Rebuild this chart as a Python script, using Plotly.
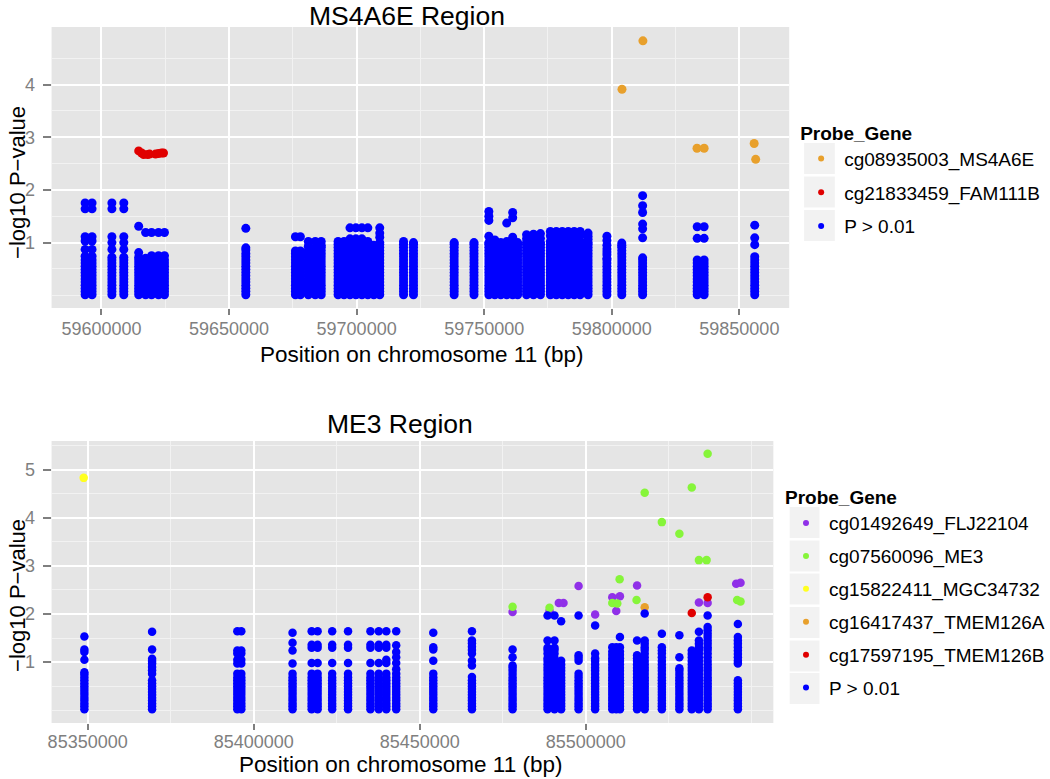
import plotly.graph_objects as go

# ---------------- MS4A6E region (top) ----------------
ms4_base = [0.01, 0.07, 0.13, 0.19, 0.25, 0.31, 0.37, 0.43, 0.49, 0.55, 0.61, 0.67]
ms4_blue_pos = [
    59593585, 59596306, 59604082, 59608748, 59614580, 59617302, 59619634, 59622356,
    59624689, 59656570, 59676010, 59677954, 59681065, 59683786, 59686119, 59692729,
    59695062, 59697394, 59699727, 59702060, 59704393, 59706726, 59709058, 59718390,
    59722278, 59738218, 59745994, 59751826, 59754159, 59756492, 59758825, 59761158,
    59763102, 59766601, 59769322, 59772044, 59775932, 59778265, 59780597, 59782930,
    59785263, 59787596, 59790706, 59798094, 59803926, 59812090, 59833474, 59836196,
    59856025]
ms4_blue_upper = [
    [0.74, 0.87, 1.03, 1.11, 1.64, 1.75], [0.74, 0.87, 1.03, 1.11, 1.64, 1.75],
    [0.72, 0.87, 1.0, 1.11, 1.64, 1.75], [0.72, 0.87, 1.0, 1.11, 1.64, 1.75],
    [0.72, 0.81, 1.31], [0.7, 1.19], [0.75, 1.19], [0.75, 1.19],
    [0.75, 1.19], [0.73, 0.79, 0.86, 0.9, 1.27], [0.73, 0.79, 0.84, 1.11], [0.73, 0.79, 0.84, 1.11],
    [0.73, 0.79, 0.85, 0.93, 1.02], [0.73, 0.79, 0.85, 0.9, 1.02], [0.73, 0.79, 0.85, 0.91, 0.95, 1.02],
    [0.73, 0.79, 0.85, 0.91, 0.97, 1.02],
    [0.73, 0.79, 0.85, 0.91, 0.97, 1.02], [0.73, 0.79, 0.85, 0.91, 0.97, 1.03, 1.07, 1.28],
    [0.73, 0.79, 0.85, 0.91, 0.97, 1.03, 1.07, 1.28], [0.73, 0.79, 0.85, 0.91, 0.97, 1.03, 1.07, 1.28],
    [0.73, 0.79, 0.85, 0.91, 0.97, 1.02, 1.28], [0.73, 0.79, 0.85, 0.91, 0.95],
    [0.73, 0.79, 0.85, 0.91, 0.97, 1.0, 1.1, 1.18, 1.28], [0.73, 0.79, 0.85, 0.91, 0.97, 1.02],
    [0.73, 0.79, 0.85, 0.91, 0.97, 1.0], [0.73, 0.79, 0.85, 0.91, 0.97, 1.0],
    [0.73, 0.79, 0.85, 0.91, 0.97, 1.0], [0.73, 0.79, 0.85, 0.91, 0.97, 1.0, 1.12, 1.42, 1.5, 1.59],
    [0.73, 0.79, 0.85, 0.91, 0.97, 1.03, 1.05], [0.73, 0.79, 0.85, 0.91, 0.97, 1.0],
    [0.73, 0.79, 0.85, 0.91, 0.97, 1.02, 1.37], [0.73, 0.79, 0.85, 0.91, 0.97, 1.0, 1.1, 1.47, 1.57],
    [0.73, 0.79, 0.85, 0.91, 0.97, 1.0], [0.73, 0.79, 0.85, 0.91, 0.97, 1.0, 1.07, 1.15],
    [0.73, 0.79, 0.85, 0.91, 0.97, 1.0, 1.08, 1.16], [0.73, 0.79, 0.85, 0.91, 0.97, 1.0, 1.08, 1.17],
    [0.73, 0.79, 0.85, 0.91, 0.97, 1.02, 1.13, 1.21], [0.73, 0.79, 0.85, 0.91, 0.97, 1.02, 1.13, 1.21],
    [0.73, 0.79, 0.85, 0.91, 0.97, 1.02, 1.13, 1.21], [0.73, 0.79, 0.85, 0.91, 0.97, 1.02, 1.13, 1.21],
    [0.73, 0.79, 0.85, 0.91, 0.97, 1.02, 1.13, 1.21], [0.73, 0.79, 0.85, 0.91, 0.97, 1.02, 1.13, 1.21],
    [0.73, 0.79, 0.85, 0.91, 0.97, 1.0, 1.06, 1.12, 1.18], [0.7, 0.77, 0.82, 0.88, 0.95, 1.04, 1.12],
    [0.73, 0.79, 0.85, 0.91, 0.95, 0.99], [0.71, 1.09, 1.26, 1.35, 1.57, 1.70, 1.89],
    [1.08, 1.30], [1.08, 1.30],
    [0.73, 0.96, 1.09, 1.33]]
ms4_orange_pos = [59804000, 59812200, 59833400, 59836200, 59855800, 59856400]
ms4_orange_val = [3.91, 4.83, 2.79, 2.79, 2.88, 2.58]
ms4_red_pos = [59614580, 59615746, 59616524, 59618079, 59618857, 59621189, 59622356, 59623522, 59624300]
ms4_red_val = [2.74, 2.70, 2.67, 2.67, 2.68, 2.68, 2.69, 2.70, 2.70]
ms4_xticks = [59600000, 59650000, 59700000, 59750000, 59800000, 59850000]
ms4_xminor = [59625000, 59675000, 59725000, 59775000, 59825000]
ms4_yticks = [1, 2, 3, 4]
ms4_yminor = [0, 0.5, 1.5, 2.5, 3.5, 4.5]

# ---------------- ME3 region (bottom) ----------------
me3_base = [0.02, 0.08, 0.14, 0.2, 0.26, 0.32, 0.38, 0.44, 0.5, 0.56, 0.62]
me3_blue_pos = [
    85349015, 85369403, 85395074, 85396268, 85411700, 85417461, 85419252, 85423640,
    85428416, 85435162, 85437669, 85439938, 85442923, 85454087, 85465728, 85477967,
    85488504, 85490594, 85492593, 85497847, 85502832, 85507996, 85509190, 85510295,
    85515459, 85517757, 85522921, 85528205, 85531936, 85534085, 85536712, 85545816]
me3_blue_upper = [
    [0.68, 0.74, 0.79, 1.05, 1.21, 1.26, 1.53],
    [0.76, 0.83, 0.9, 0.97, 1.02, 1.07, 1.26, 1.63],
    [0.68, 0.76, 0.97, 1.05, 1.18, 1.24, 1.64], [0.68, 0.76, 0.97, 1.05, 1.18, 1.24, 1.64],
    [0.68, 0.76, 0.97, 1.24, 1.40, 1.61],
    [0.68, 0.76, 0.98, 1.3, 1.36, 1.64], [0.68, 0.76, 0.98, 1.3, 1.36, 1.64],
    [0.68, 0.76, 0.98, 1.3, 1.36, 1.64], [0.68, 0.76, 0.98, 1.3, 1.36, 1.64],
    [0.68, 0.76, 0.98, 1.3, 1.36, 1.64], [0.68, 0.76, 0.98, 1.3, 1.36, 1.64],
    [0.68, 0.76, 0.98, 1.05, 1.3, 1.36, 1.64],
    [0.68, 0.76, 0.85, 0.98, 1.1, 1.21, 1.35, 1.64],
    [0.68, 0.76, 1.03, 1.26, 1.31, 1.61],
    [0.69, 0.93, 1.03, 1.18, 1.25, 1.32, 1.39, 1.45, 1.64],
    [0.68, 0.75, 0.82, 0.88, 0.93, 1.1, 1.26],
    [0.68, 0.75, 0.82, 0.88, 0.95, 1.02, 1.08, 1.18, 1.25, 1.3, 1.45, 1.97],
    [0.68, 0.75, 0.82, 0.88, 0.95, 1.02, 1.08, 1.18, 1.25, 1.3, 1.45, 1.97],
    [0.68, 0.75, 0.82, 0.88, 0.95, 1.03, 1.85],
    [0.69, 0.76, 1.03, 1.09, 1.14, 1.97],
    [0.68, 0.75, 0.82, 0.88, 0.95, 1.02, 1.08, 1.18, 1.76],
    [0.68, 0.75, 0.82, 0.88, 0.95, 1.02, 1.08, 1.15, 1.22, 1.31],
    [0.68, 0.75, 0.82, 0.88, 0.95, 1.02, 1.08, 1.15, 1.22, 1.31],
    [0.68, 0.75, 0.82, 0.88, 0.95, 1.02, 1.08, 1.15, 1.22, 1.31, 1.52],
    [0.68, 0.75, 0.82, 0.88, 0.95, 1.02, 1.08, 1.14, 1.45],
    [0.68, 0.75, 0.82, 0.88, 0.95, 1.02, 1.1, 1.18, 1.25, 1.31, 1.38, 1.45, 2.01],
    [0.68, 0.75, 0.82, 0.88, 0.95, 1.02, 1.1, 1.18, 1.24, 1.31, 1.59],
    [0.68, 0.75, 0.82, 0.87, 1.1, 1.56],
    [0.68, 0.75, 0.82, 0.88, 0.95, 1.02, 1.1, 1.17, 1.24],
    [0.68, 0.75, 0.82, 0.88, 0.95, 1.02, 1.1, 1.18, 1.25, 1.31, 1.38, 1.45, 1.63],
    [0.68, 0.75, 0.82, 0.88, 0.95, 1.02, 1.1, 1.18, 1.25, 1.31, 1.38, 1.45, 1.52, 1.59, 1.66, 1.73, 1.97],
    [0.97, 1.03, 1.1, 1.17, 1.24, 1.31, 1.38, 1.45, 1.52, 1.79]]
me3_purple_pos = [85477967, 85489100, 85491897, 85493300, 85497847, 85502832, 85507996, 85509190,
                  85510295, 85515459, 85534085, 85536712, 85545308, 85546622]
me3_purple_val = [2.04, 2.06, 2.23, 2.23, 2.58, 1.99, 2.35, 2.06, 2.37, 2.59, 2.24, 2.23, 2.63, 2.65]
me3_green_pos = [85477967, 85489100, 85507996, 85509500, 85510205, 85515300, 85517757, 85522921,
                 85528205, 85531936, 85534085, 85536400, 85536712, 85545600, 85546622]
me3_green_val = [2.15, 2.13, 2.23, 2.22, 2.72, 2.29, 4.52, 3.91, 3.67, 4.63, 3.12, 3.12, 5.33, 2.29, 2.26]
me3_yellow_pos = [85348806]
me3_yellow_val = [4.83]
me3_orange_pos = [85517757]
me3_orange_val = [2.14]
me3_red_pos = [85531936, 85536712]
me3_red_val = [2.02, 2.35]
me3_xticks = [85350000, 85400000, 85450000, 85500000]
me3_xminor = [85375000, 85425000, 85475000, 85525000, 85550000]
me3_yticks = [1, 2, 3, 4, 5]
me3_yminor = [0, 0.5, 1.5, 2.5, 3.5, 4.5, 5.5]

C_BLUE = "#0000FF"
C_ORANGE = "#E8A02C"
C_RED = "#E00000"
C_PURPLE = "#9030E8"
C_GREEN = "#86F53A"
C_YELLOW = "#FFFF20"

W, H = 1050, 779
FONT = "Liberation Sans, Arial, Helvetica, sans-serif"


def px(x):
    return x / W


def py(y):
    return 1 - y / H


def expand(pos_list, upper_list, base):
    xs, ys = [], []
    for p, up in zip(pos_list, upper_list):
        for v in base + up:
            xs.append(p)
            ys.append(v)
    return xs, ys


fig = go.Figure()

# ---- top panel traces ----
bx, by = expand(ms4_blue_pos, ms4_blue_upper, ms4_base)
fig.add_trace(go.Scatter(x=ms4_red_pos, y=ms4_red_val, mode="markers", xaxis="x", yaxis="y",
                         marker=dict(color=C_RED, size=9), showlegend=False))
fig.add_trace(go.Scatter(x=ms4_orange_pos, y=ms4_orange_val, mode="markers", xaxis="x", yaxis="y",
                         marker=dict(color=C_ORANGE, size=9), showlegend=False))
fig.add_trace(go.Scatter(x=bx, y=by, mode="markers", xaxis="x", yaxis="y",
                         marker=dict(color=C_BLUE, size=9), showlegend=False))
for name, col in [("cg08935003_MS4A6E", C_ORANGE), ("cg21833459_FAM111B", C_RED), ("P > 0.01", C_BLUE)]:
    fig.add_trace(go.Scatter(x=[None], y=[None], mode="markers", xaxis="x", yaxis="y",
                             marker=dict(color=col, size=6), name=name, legend="legend",
                             legendgroup="t" + name))

# ---- bottom panel traces ----
for pos, val, col in [(me3_purple_pos, me3_purple_val, C_PURPLE), (me3_green_pos, me3_green_val, C_GREEN),
                      (me3_yellow_pos, me3_yellow_val, C_YELLOW), (me3_orange_pos, me3_orange_val, C_ORANGE),
                      (me3_red_pos, me3_red_val, C_RED)]:
    fig.add_trace(go.Scatter(x=pos, y=val, mode="markers", xaxis="x2", yaxis="y2",
                             marker=dict(color=col, size=8.5), showlegend=False))
bx2, by2 = expand(me3_blue_pos, me3_blue_upper, me3_base)
fig.add_trace(go.Scatter(x=bx2, y=by2, mode="markers", xaxis="x2", yaxis="y2",
                         marker=dict(color=C_BLUE, size=8.5), showlegend=False))
for name, col in [("cg01492649_FLJ22104", C_PURPLE), ("cg07560096_ME3", C_GREEN),
                  ("cg15822411_MGC34732", C_YELLOW), ("cg16417437_TMEM126A", C_ORANGE),
                  ("cg17597195_TMEM126B", C_RED), ("P > 0.01", C_BLUE)]:
    fig.add_trace(go.Scatter(x=[None], y=[None], mode="markers", xaxis="x2", yaxis="y2",
                             marker=dict(color=col, size=6), name=name, legend="legend2",
                             legendgroup="b" + name))

tickfont = dict(family=FONT, size=18, color="#7F7F7F")
common_x = dict(showgrid=True, gridcolor="white", gridwidth=2, zeroline=False, showline=False,
                ticks="outside", ticklen=6, tickwidth=1.5, tickcolor="#7F7F7F", tickfont=tickfont,
                tickmode="array")
common_y = dict(showgrid=True, gridcolor="white", gridwidth=2, zeroline=False, showline=False,
                ticks="outside", ticklen=8, tickwidth=1.5, tickcolor="#7F7F7F", tickfont=tickfont,
                tickmode="array", ticklabelstandoff=4)

fig.update_layout(
    width=W, height=H,
    margin=dict(l=0, r=0, t=0, b=0),
    paper_bgcolor="white", plot_bgcolor="#E5E5E5",
    font=dict(family=FONT, color="black"),
    xaxis=dict(domain=[px(48), px(792)], anchor="y", range=[59580444, 59869541],
               tickvals=ms4_xticks, ticktext=[str(v) for v in ms4_xticks],
               minor=dict(tickvals=ms4_xminor, showgrid=True, gridcolor="#F2F2F2", gridwidth=1, ticks=""),
               ticklabelstandoff=-2, **common_x),
    yaxis=dict(domain=[py(308), py(27)], anchor="x", range=[-0.2425, 5.0925],
               tickvals=ms4_yticks, ticktext=[str(v) for v in ms4_yticks],
               minor=dict(tickvals=ms4_yminor, showgrid=True, gridcolor="#F2F2F2", gridwidth=1, ticks=""),
               **common_y),
    xaxis2=dict(domain=[px(48), px(776)], anchor="y2", range=[85339135, 85556502],
                tickvals=me3_xticks, ticktext=[str(v) for v in me3_xticks],
                minor=dict(tickvals=me3_xminor, showgrid=True, gridcolor="#F2F2F2", gridwidth=1, ticks=""),
                ticklabelstandoff=-4, **common_x),
    yaxis2=dict(domain=[py(723), py(441)], anchor="x2", range=[-0.2665, 5.5965],
                tickvals=me3_yticks, ticktext=[str(v) for v in me3_yticks],
                minor=dict(tickvals=me3_yminor, showgrid=True, gridcolor="#F2F2F2", gridwidth=1, ticks=""),
                **common_y),
    legend=dict(x=px(801), xanchor="left", y=py(115), yanchor="top", bgcolor="rgba(0,0,0,0)",
                title=dict(text="<b>Probe_Gene</b>", font=dict(family=FONT, size=19)),
                font=dict(family=FONT, size=19), tracegroupgap=6, itemwidth=36, traceorder="grouped"),
    legend2=dict(x=px(786), xanchor="left", y=py(479.5), yanchor="top", bgcolor="rgba(0,0,0,0)",
                 title=dict(text="<b>Probe_Gene</b>", font=dict(family=FONT, size=19)),
                 font=dict(family=FONT, size=19), tracegroupgap=5.2, itemwidth=36, traceorder="grouped"),
)

annotations = [
    dict(text="MS4A6E Region", x=px(406), y=py(15.5), font=dict(size=26.5)),
    dict(text="ME3 Region", x=px(399), y=py(424), font=dict(size=26.5)),
    dict(text="Position on chromosome 11 (bp)", x=px(422), y=py(355), font=dict(size=22.5)),
    dict(text="Position on chromosome 11 (bp)", x=px(400), y=py(764), font=dict(size=22.5)),
    dict(text="\u2212log10 P\u2212value", x=px(13), y=py(182), font=dict(size=22), textangle=-90),
    dict(text="\u2212log10 P\u2212value", x=px(13), y=py(595), font=dict(size=22), textangle=-90),
]
for a in annotations:
    a.update(xref="paper", yref="paper", showarrow=False, xanchor="center", yanchor="middle")
    a["font"].update(family=FONT, color="black")
fig.update_layout(annotations=annotations)

shapes = []
for cy in [158.5, 192, 225.5]:
    shapes.append(dict(type="rect", xref="paper", yref="paper", x0=px(807), x1=px(838),
                       y0=py(cy + 15.5), y1=py(cy - 15.5), fillcolor="#F2F2F2", line=dict(width=0),
                       layer="below"))
for cy in [522.5, 556, 589, 622.5, 656, 688.5]:
    shapes.append(dict(type="rect", xref="paper", yref="paper", x0=px(792.5), x1=px(822.5),
                       y0=py(cy + 15.5), y1=py(cy - 15.5), fillcolor="#F2F2F2", line=dict(width=0),
                       layer="below"))
fig.update_layout(shapes=shapes)

fig.write_html("out.html", config={"displayModeBar": False},
               post_script="document.body.style.margin='0';")
